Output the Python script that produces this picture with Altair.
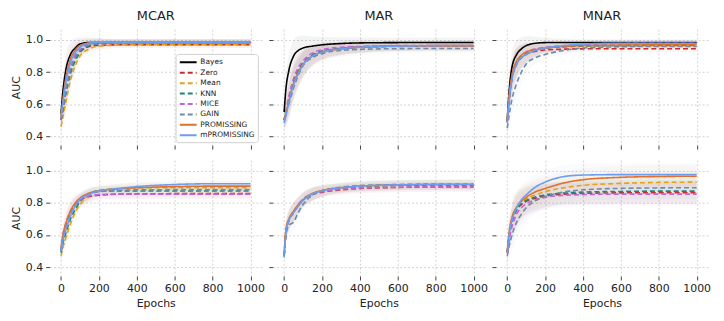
import altair as alt
import pandas as pd

epochs = [0, 10, 25, 50, 75, 100, 150, 200, 300, 400, 600, 800, 1000]
methods = ["Bayes", "Zero", "Mean", "KNN", "MICE", "GAIN", "PROMISSING", "mPROMISSING"]
colors = ["#000000", "#cc2b2b", "#e6a117", "#16877f", "#c266e0", "#6f8aa8", "#e0702c", "#6b9df0"]
dashes = [[1, 0], [5, 3], [5, 3], [5, 3], [5, 3], [5, 3], [1, 0], [1, 0]]
mechanisms = ["MCAR", "MAR", "MNAR"]
rows = ["top", "bottom"]

# top row ---------------------------------------------------------------
mcar_top = {
    "Bayes":       [0.54, 0.68, 0.81, 0.91, 0.95, 0.975, 0.985, 0.985, 0.985, 0.985, 0.985, 0.985, 0.985],
    "PROMISSING":  [0.52, 0.63, 0.76, 0.88, 0.935, 0.965, 0.982, 0.985, 0.985, 0.985, 0.985, 0.985, 0.985],
    "mPROMISSING": [0.52, 0.61, 0.73, 0.86, 0.92, 0.955, 0.98, 0.986, 0.987, 0.987, 0.987, 0.987, 0.987],
    "MICE":        [0.50, 0.58, 0.69, 0.83, 0.91, 0.95, 0.975, 0.982, 0.985, 0.985, 0.985, 0.985, 0.985],
    "GAIN":        [0.50, 0.57, 0.68, 0.81, 0.89, 0.935, 0.97, 0.98, 0.985, 0.985, 0.985, 0.985, 0.985],
    "KNN":         [0.50, 0.56, 0.66, 0.79, 0.87, 0.92, 0.965, 0.978, 0.985, 0.985, 0.985, 0.985, 0.985],
    "Zero":        [0.50, 0.57, 0.68, 0.81, 0.89, 0.93, 0.96, 0.967, 0.97, 0.97, 0.97, 0.97, 0.97],
    "Mean":        [0.46, 0.52, 0.61, 0.75, 0.84, 0.90, 0.945, 0.962, 0.968, 0.97, 0.97, 0.97, 0.97],
}
mar_top = {
    "Bayes":       [0.55, 0.70, 0.81, 0.90, 0.935, 0.95, 0.962, 0.97, 0.978, 0.982, 0.984, 0.985, 0.985],
    "MICE":        [0.50, 0.56, 0.65, 0.76, 0.83, 0.87, 0.92, 0.94, 0.955, 0.96, 0.965, 0.965, 0.965],
    "PROMISSING":  [0.49, 0.54, 0.62, 0.73, 0.80, 0.85, 0.90, 0.925, 0.945, 0.955, 0.962, 0.965, 0.965],
    "mPROMISSING": [0.48, 0.53, 0.61, 0.72, 0.79, 0.845, 0.90, 0.925, 0.945, 0.955, 0.962, 0.965, 0.966],
    "Zero":        [0.50, 0.55, 0.63, 0.74, 0.81, 0.855, 0.905, 0.93, 0.948, 0.956, 0.962, 0.964, 0.964],
    "Mean":        [0.50, 0.55, 0.62, 0.73, 0.80, 0.85, 0.90, 0.925, 0.945, 0.955, 0.96, 0.962, 0.962],
    "KNN":         [0.50, 0.55, 0.63, 0.74, 0.81, 0.855, 0.905, 0.93, 0.948, 0.956, 0.962, 0.964, 0.964],
    "GAIN":        [0.50, 0.55, 0.60, 0.70, 0.78, 0.84, 0.89, 0.915, 0.935, 0.942, 0.946, 0.947, 0.947],
}
mnar_top = {
    "Bayes":       [0.50, 0.68, 0.83, 0.91, 0.945, 0.965, 0.98, 0.984, 0.985, 0.985, 0.985, 0.985, 0.985],
    "PROMISSING":  [0.50, 0.65, 0.78, 0.87, 0.905, 0.925, 0.94, 0.95, 0.96, 0.965, 0.968, 0.97, 0.97],
    "mPROMISSING": [0.48, 0.62, 0.75, 0.85, 0.89, 0.91, 0.935, 0.95, 0.965, 0.975, 0.98, 0.98, 0.98],
    "Mean":        [0.49, 0.63, 0.76, 0.86, 0.90, 0.92, 0.94, 0.95, 0.958, 0.962, 0.965, 0.965, 0.965],
    "KNN":         [0.49, 0.63, 0.76, 0.86, 0.90, 0.92, 0.94, 0.95, 0.958, 0.963, 0.966, 0.967, 0.967],
    "MICE":        [0.49, 0.63, 0.76, 0.86, 0.90, 0.925, 0.945, 0.955, 0.965, 0.972, 0.978, 0.98, 0.98],
    "Zero":        [0.49, 0.63, 0.76, 0.85, 0.89, 0.91, 0.93, 0.938, 0.943, 0.945, 0.946, 0.946, 0.946],
    "GAIN":        [0.45, 0.53, 0.63, 0.73, 0.80, 0.85, 0.89, 0.91, 0.935, 0.95, 0.958, 0.96, 0.96],
}
# bottom row --------------------------------------------------------------
mcar_bot = {
    "PROMISSING":  [0.52, 0.60, 0.67, 0.75, 0.80, 0.83, 0.862, 0.875, 0.888, 0.895, 0.902, 0.905, 0.905],
    "mPROMISSING": [0.50, 0.57, 0.63, 0.72, 0.78, 0.82, 0.855, 0.875, 0.89, 0.902, 0.915, 0.92, 0.92],
    "Mean":        [0.47, 0.52, 0.58, 0.67, 0.74, 0.79, 0.85, 0.88, 0.89, 0.893, 0.895, 0.895, 0.895],
    "KNN":         [0.49, 0.55, 0.61, 0.70, 0.76, 0.81, 0.86, 0.875, 0.875, 0.875, 0.875, 0.875, 0.875],
    "MICE":        [0.50, 0.60, 0.67, 0.75, 0.795, 0.82, 0.845, 0.852, 0.855, 0.855, 0.855, 0.855, 0.855],
    "Zero":        [0.50, 0.58, 0.65, 0.74, 0.79, 0.815, 0.84, 0.848, 0.855, 0.857, 0.858, 0.858, 0.858],
    "GAIN":        [0.50, 0.57, 0.64, 0.73, 0.785, 0.82, 0.855, 0.87, 0.878, 0.882, 0.883, 0.883, 0.883],
}
mar_bot = {
    "PROMISSING":  [0.47, 0.64, 0.70, 0.75, 0.79, 0.82, 0.86, 0.878, 0.895, 0.905, 0.912, 0.915, 0.915],
    "mPROMISSING": [0.46, 0.62, 0.69, 0.74, 0.78, 0.815, 0.857, 0.875, 0.895, 0.905, 0.913, 0.916, 0.917],
    "Mean":        [0.47, 0.62, 0.69, 0.74, 0.785, 0.82, 0.857, 0.875, 0.893, 0.902, 0.91, 0.912, 0.913],
    "KNN":         [0.47, 0.62, 0.69, 0.74, 0.785, 0.82, 0.857, 0.875, 0.893, 0.902, 0.91, 0.912, 0.913],
    "MICE":        [0.47, 0.62, 0.69, 0.745, 0.79, 0.825, 0.855, 0.87, 0.885, 0.893, 0.898, 0.90, 0.90],
    "Zero":        [0.47, 0.62, 0.69, 0.74, 0.785, 0.82, 0.852, 0.867, 0.882, 0.89, 0.897, 0.90, 0.90],
    "GAIN":        [0.47, 0.60, 0.66, 0.68, 0.74, 0.79, 0.85, 0.875, 0.898, 0.908, 0.915, 0.918, 0.918],
}
mnar_bot = {
    "mPROMISSING": [0.49, 0.60, 0.69, 0.77, 0.82, 0.85, 0.90, 0.93, 0.965, 0.974, 0.977, 0.977, 0.977],
    "PROMISSING":  [0.50, 0.62, 0.71, 0.775, 0.81, 0.835, 0.87, 0.89, 0.925, 0.945, 0.96, 0.965, 0.967],
    "Mean":        [0.49, 0.59, 0.68, 0.76, 0.80, 0.825, 0.85, 0.87, 0.895, 0.91, 0.922, 0.928, 0.93],
    "KNN":         [0.49, 0.59, 0.68, 0.76, 0.795, 0.815, 0.838, 0.85, 0.862, 0.868, 0.872, 0.874, 0.874],
    "Zero":        [0.49, 0.59, 0.68, 0.755, 0.79, 0.81, 0.83, 0.843, 0.855, 0.86, 0.863, 0.864, 0.864],
    "MICE":        [0.49, 0.57, 0.65, 0.73, 0.77, 0.795, 0.82, 0.835, 0.848, 0.852, 0.855, 0.855, 0.855],
    "GAIN":        [0.47, 0.53, 0.60, 0.68, 0.73, 0.77, 0.815, 0.84, 0.868, 0.882, 0.891, 0.894, 0.895],
}
# spread of the shaded bands, one per panel
spread = {
    ("top", "MCAR"):    [0.06, 0.08, 0.10, 0.08, 0.06, 0.04, 0.03, 0.025, 0.02, 0.02, 0.02, 0.02, 0.02],
    ("top", "MAR"):     [0.05, 0.08, 0.10, 0.10, 0.09, 0.08, 0.06, 0.05, 0.04, 0.035, 0.03, 0.03, 0.03],
    ("top", "MNAR"):    [0.06, 0.09, 0.10, 0.09, 0.07, 0.06, 0.04, 0.03, 0.025, 0.02, 0.02, 0.02, 0.02],
    ("bottom", "MCAR"): [0.04, 0.06, 0.07, 0.06, 0.05, 0.04, 0.035, 0.03, 0.03, 0.03, 0.03, 0.03, 0.03],
    ("bottom", "MAR"):  [0.03, 0.06, 0.06, 0.06, 0.05, 0.045, 0.04, 0.035, 0.03, 0.03, 0.03, 0.03, 0.03],
    ("bottom", "MNAR"): [0.05, 0.08, 0.10, 0.10, 0.09, 0.085, 0.08, 0.075, 0.07, 0.07, 0.07, 0.07, 0.07],
}
panels = {
    ("top", "MCAR"): mcar_top, ("top", "MAR"): mar_top, ("top", "MNAR"): mnar_top,
    ("bottom", "MCAR"): mcar_bot, ("bottom", "MAR"): mar_bot, ("bottom", "MNAR"): mnar_bot,
}

records = []
for (row, mech), series in panels.items():
    sd = spread[(row, mech)]
    for m in methods:
        if m not in series:
            continue
        for e, v, s in zip(epochs, series[m], sd):
            records.append({"row": row, "mech": mech, "method": m, "epoch": e,
                            "auc": v, "lo": v - s, "hi": v + s, "order": methods.index(m)})
df = pd.DataFrame(records)

color_scale = alt.Scale(domain=methods, range=colors)
dash_scale = alt.Scale(domain=methods, range=dashes)
# the bands use their own scale (reversed order) so that their hidden legend
# does not merge with the line legend
band_scale = alt.Scale(domain=methods[::-1], range=colors[::-1])
x_scale = alt.Scale(domain=[-60, 1060], nice=False, zero=False)
y_scale = alt.Scale(domain=[0.344, 1.068], nice=False, zero=False)

legend = alt.Legend(title=None, orient="none", legendX=127, legendY=25,
                    symbolType="M-1,0H3", symbolSize=72, symbolStrokeWidth=2,
                    labelFontSize=7.5, labelFont="DejaVu Sans", rowPadding=0.5,
                    labelOffset=11, strokeColor="#d0d0d0", fillColor="white",
                    padding=3, cornerRadius=3, labelColor="#222")


def panel(row, mech):
    first_col = mech == "MCAR"
    bottom = row == "bottom"
    xaxis = alt.Axis(values=[0, 200, 400, 600, 800, 1000], labels=bottom,
                     title="Epochs" if bottom else None, format="d")
    yaxis = alt.Axis(values=[0.4, 0.6, 0.8, 1.0], labels=first_col,
                     title="AUC" if first_col else None, format=".1f")
    base = alt.Chart(df).transform_filter(
        (alt.datum.row == row) & (alt.datum.mech == mech))
    band = base.mark_area(opacity=0.045, clip=True, interpolate="monotone").encode(
        x=alt.X("epoch:Q", scale=x_scale, axis=xaxis),
        y=alt.Y("lo:Q", scale=y_scale, axis=yaxis),
        y2="hi:Q",
        fill=alt.Fill("method:N", scale=band_scale, legend=None),
        detail="method:N",
    )
    line = base.mark_line(strokeWidth=1.6, clip=True, interpolate="monotone").encode(
        x=alt.X("epoch:Q", scale=x_scale, axis=xaxis),
        y=alt.Y("auc:Q", scale=y_scale, axis=yaxis),
        color=alt.Color("method:N", scale=color_scale, legend=legend, sort=methods),
        strokeDash=alt.StrokeDash("method:N", scale=dash_scale, legend=legend, sort=methods),
        order="order:Q",
    )
    ch = alt.layer(band, line).properties(width=214, height=117)
    if row == "top":
        ch = ch.properties(title=alt.TitleParams(mech, fontSize=13, fontWeight="normal",
                                                 font="DejaVu Sans", offset=6, color="#222"))
    return ch


chart = alt.concat(
    *[panel(r, m) for r in rows for m in mechanisms],
    columns=3, spacing={"row": 15, "column": 11},
    bounds="flush",
).properties(
    padding={"left": 2, "top": 1, "right": 5, "bottom": 5}
).configure_view(stroke=None).configure_axis(
    grid=True, gridColor="#c8c8c8", gridDash=[2, 2], gridWidth=0.8,
    domain=False, ticks=True, tickColor="#444", tickSize=4, tickWidth=1,
    labelFont="DejaVu Sans", labelFontSize=11, labelColor="#222", labelPadding=3,
    titleFont="DejaVu Sans", titleFontSize=11, titleFontWeight="normal", titleColor="#222",
    titlePadding=4,
)

chart.save("out.html", embed_options={"renderer": "svg", "actions": False})
